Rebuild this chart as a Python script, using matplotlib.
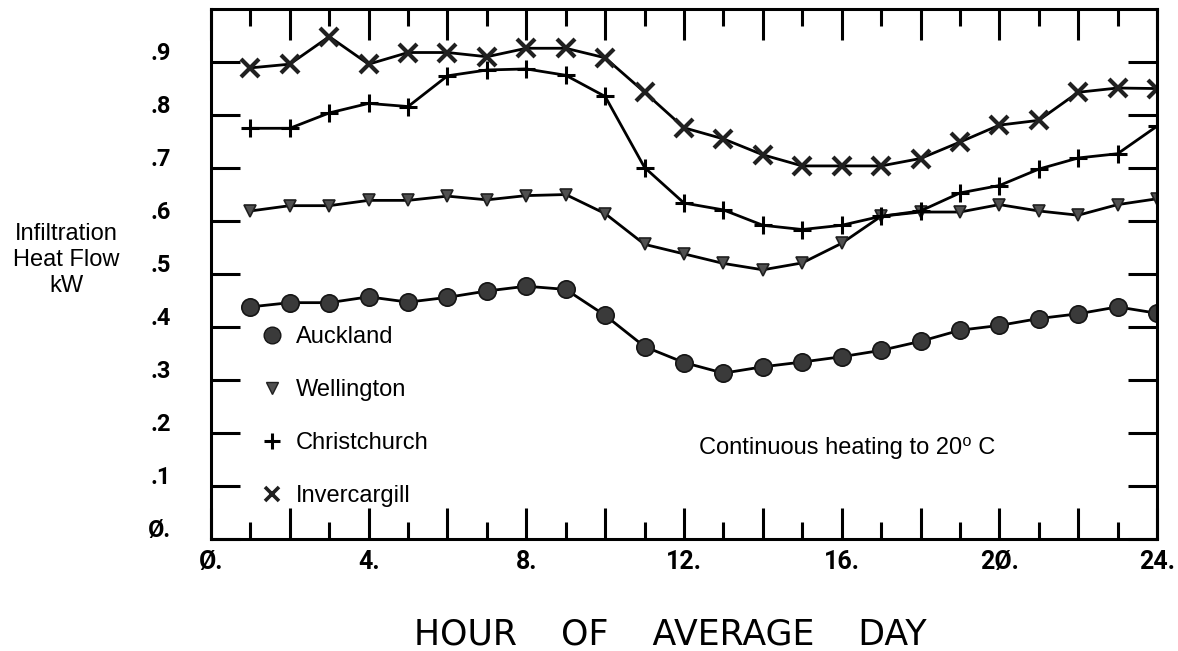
import matplotlib
matplotlib.use('Agg')
import matplotlib.pyplot as plt
from matplotlib.lines import Line2D
from matplotlib.transforms import ScaledTranslation

plt.rcParams['font.family'] = ['Liberation Sans', 'DejaVu Sans']

# hour of average day
hours = list(range(1, 25))

# infiltration heat flow, kW
auckland = [0.438, 0.446, 0.446, 0.457, 0.447, 0.456, 0.468, 0.477, 0.471, 0.422,
            0.363, 0.333, 0.313, 0.325, 0.334, 0.344, 0.356, 0.373, 0.394, 0.403,
            0.416, 0.425, 0.438, 0.426]
wellington = [0.619, 0.629, 0.629, 0.639, 0.639, 0.647, 0.640, 0.648, 0.650, 0.614,
              0.556, 0.538, 0.520, 0.508, 0.521, 0.558, 0.609, 0.617, 0.617, 0.631,
              0.619, 0.611, 0.631, 0.642]
christchurch = [0.775, 0.775, 0.804, 0.822, 0.816, 0.874, 0.885, 0.887, 0.875, 0.835,
                0.701, 0.634, 0.621, 0.592, 0.584, 0.592, 0.609, 0.619, 0.653, 0.667,
                0.698, 0.719, 0.727, 0.779]
invercargill = [0.889, 0.896, 0.948, 0.896, 0.918, 0.918, 0.910, 0.926, 0.926, 0.908,
                0.843, 0.776, 0.755, 0.725, 0.704, 0.704, 0.704, 0.718, 0.749, 0.781,
                0.790, 0.843, 0.851, 0.850]

city_names = ['Auckland', 'Wellington', 'Christchurch', 'Invercargill']

x_major = list(range(0, 25, 2))
x_minor = list(range(1, 24, 2))
y_ticks = [0.0, 0.1, 0.2, 0.3, 0.4, 0.5, 0.6, 0.7, 0.8, 0.9]


def zero_slash(s):
    # plotter style slashed zero
    return s.replace('0', '\u00d8')


fig = plt.figure(figsize=(11.78, 6.51), dpi=100)
ax = fig.add_axes([0.1791, 0.1720, 0.8031, 0.8141])

ax.plot(hours, auckland, color='black', lw=2, marker='o', ms=12.5,
        mfc='#3a3a3a', mec='#151515', mew=1.2)
ax.plot(hours, wellington, color='black', lw=2, marker='v', ms=9,
        mfc='#505050', mec='#202020', mew=1.2)
ax.plot(hours, christchurch, color='black', lw=2, marker='+', ms=13,
        mec='black', mew=2.2)
ax.plot(hours, invercargill, color='black', lw=2, marker='x', ms=13,
        mec='#202020', mew=3)

ax.set_xlim(0, 24)
ax.set_ylim(0, 1.0)
for sp in ax.spines.values():
    sp.set_linewidth(2.2)

tick_font = dict(family=['Roboto', 'DejaVu Sans'], weight='bold')

ax.set_xticks(x_major)
ax.set_xticks(x_minor, minor=True)
ax.set_xticklabels([zero_slash(str(t)) + '.' if t % 4 == 0 else '' for t in x_major],
                   fontsize=18, **tick_font)
ax.tick_params(axis='x', which='major', direction='in', length=22, width=2.2,
               top=True, bottom=True, pad=8)
ax.tick_params(axis='x', which='minor', direction='in', length=12, width=2.2,
               top=True, bottom=True)

ax.set_yticks(y_ticks)
ax.set_yticklabels([zero_slash('0.') if v == 0 else '.' + str(round(v * 10)) for v in y_ticks],
                   fontsize=17, **tick_font)
ax.tick_params(axis='y', direction='in', length=21, width=2.2, left=True, right=True, pad=29)
for lab in ax.get_yticklabels():
    lab.set_transform(lab.get_transform() + ScaledTranslation(0, 0.11, fig.dpi_scale_trans))

# legend, markers only
handles = [
    Line2D([], [], ls='none', marker='o', ms=12, mfc='#3a3a3a', mec='#151515'),
    Line2D([], [], ls='none', marker='v', ms=9, mfc='#505050', mec='#202020'),
    Line2D([], [], ls='none', marker='+', ms=12, mec='black', mew=2.2),
    Line2D([], [], ls='none', marker='x', ms=10, mec='#202020', mew=2.6),
]
ax.legend(handles, city_names, loc='upper left', bbox_to_anchor=(0.052, 0.402),
          frameon=False, fontsize=17, labelspacing=1.31, handlelength=1.0,
          handletextpad=0.5, borderaxespad=0, borderpad=0)

ax.text(12.37, 0.171, 'Continuous heating to 20\u2070 C', fontsize=17, va='center')

fig.text(0.056, 0.6006, 'Infiltration\nHeat Flow\nkW', ha='center', va='center',
         fontsize=17, linespacing=1.25)
fig.text(0.569, 0.026, 'HOUR    OF    AVERAGE    DAY', ha='center', va='center',
         fontsize=25, family='DejaVu Sans')

fig.savefig('out.png', dpi=100)
